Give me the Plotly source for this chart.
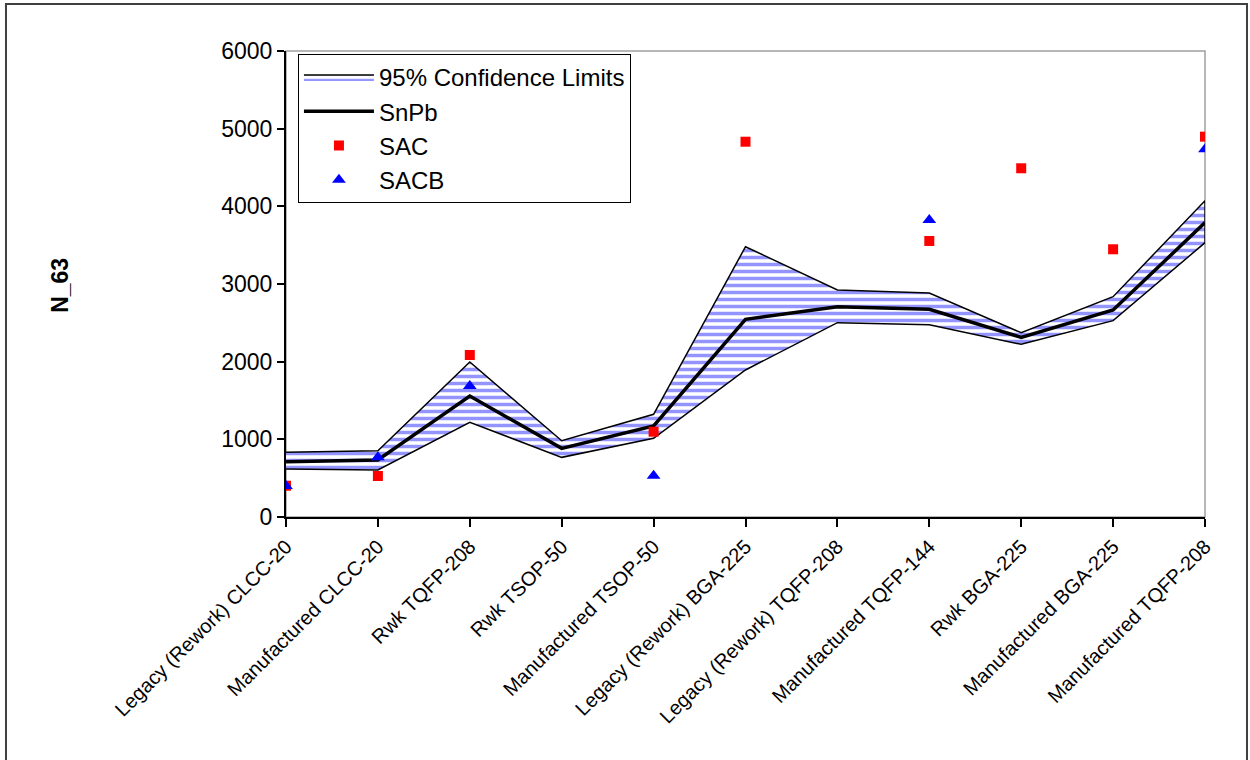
import plotly.graph_objects as go

# Package / assembly categories along the x axis
categories = [
    "Legacy (Rework) CLCC-20",
    "Manufactured CLCC-20",
    "Rwk TQFP-208",
    "Rwk TSOP-50",
    "Manufactured TSOP-50",
    "Legacy (Rework) BGA-225",
    "Legacy (Rework) TQFP-208",
    "Manufactured TQFP-144",
    "Rwk BGA-225",
    "Manufactured BGA-225",
    "Manufactured TQFP-208",
]

# SnPb characteristic life with 95% confidence limits
snpb = [712, 734, 1558, 884, 1172, 2545, 2708, 2674, 2313, 2665, 3790]
snpb_upper = [833, 854, 1995, 982, 1322, 3480, 2923, 2884, 2373, 2837, 4073]
snpb_lower = [618, 605, 1219, 768, 1013, 1893, 2502, 2476, 2223, 2528, 3532]

# Lead-free results (None where not tested)
sac = [403, 528, 2086, None, 1098, 4832, None, 3554, 4490, 3447, 4897]
sacb = [400, 768, 1687, None, 532, None, None, 3824, None, None, 4734]

y_ticks = [0, 1000, 2000, 3000, 4000, 5000, 6000]

xs = list(range(len(categories)))
FONT = "Arial, Liberation Sans, sans-serif"

# confidence band as a closed polygon: upper limits left->right, lower limits back
band_x = xs + xs[::-1]
band_y = snpb_upper + snpb_lower[::-1]

fig = go.Figure()

fig.add_trace(go.Scatter(
    x=band_x, y=band_y, mode="lines", fill="toself",
    name="95% Confidence Limits",
    line=dict(color="black", width=1.5),
    fillcolor="white",
    fillpattern=dict(shape="-", fgcolor="#2a2aff", bgcolor="white",
                     size=7, solidity=0.5),
    hoverinfo="skip",
))
fig.add_trace(go.Scatter(
    x=xs, y=snpb, mode="lines", name="SnPb",
    line=dict(color="black", width=3.5),
))
fig.add_trace(go.Scatter(
    x=xs, y=sac, mode="markers", name="SAC",
    marker=dict(symbol="square", size=10, color="#ff0000"),
))
fig.add_trace(go.Scatter(
    x=xs, y=sacb, mode="markers", name="SACB",
    marker=dict(symbol="triangle-up", size=12, color="#0000ff"),
))

fig.update_layout(
    width=1250, height=760,
    margin=dict(l=286, r=45, t=51, b=243),
    paper_bgcolor="white", plot_bgcolor="white",
    font=dict(family=FONT, color="black"),
    xaxis=dict(
        range=[0, len(categories) - 1],
        tickmode="array", tickvals=xs, ticktext=categories,
        tickangle=-45, tickfont=dict(size=20),
        showgrid=False, zeroline=False,
        showline=True, linecolor="black", linewidth=2,
        ticks="outside", ticklen=8, tickwidth=1.5, tickcolor="black",
    ),
    yaxis=dict(
        range=[0, 6000], tickmode="array", tickvals=y_ticks,
        tickfont=dict(size=23),
        showgrid=False, zeroline=False,
        showline=True, linecolor="black", linewidth=2,
        ticks="outside", ticklen=7, tickwidth=1.5, tickcolor="black",
    ),
    legend=dict(
        x=0.013, y=0.9936, xanchor="left", yanchor="top",
        bgcolor="white", bordercolor="black", borderwidth=1,
        font=dict(size=24, family=FONT), itemwidth=70,
        traceorder="normal", tracegroupgap=0,
    ),
    shapes=[
        # plot area frame (top/right edges in grey)
        dict(type="rect", xref="paper", yref="paper", x0=0, x1=1, y0=0, y1=1,
             line=dict(color="#a0a0a0", width=1.5), layer="below"),
        # outer chart border
        dict(type="rect", xref="paper", yref="paper",
             x0=-0.3047, x1=1.0457, y0=-0.56, y1=1.1009,
             line=dict(color="#404040", width=2), layer="below"),
    ],
    annotations=[
        dict(text="<b>N_63</b>", textangle=-90, xref="paper", yref="paper",
             x=-0.246, y=0.498, xanchor="center", yanchor="middle",
             showarrow=False, font=dict(size=23, family=FONT)),
    ],
)

fig.write_html("out.html")
